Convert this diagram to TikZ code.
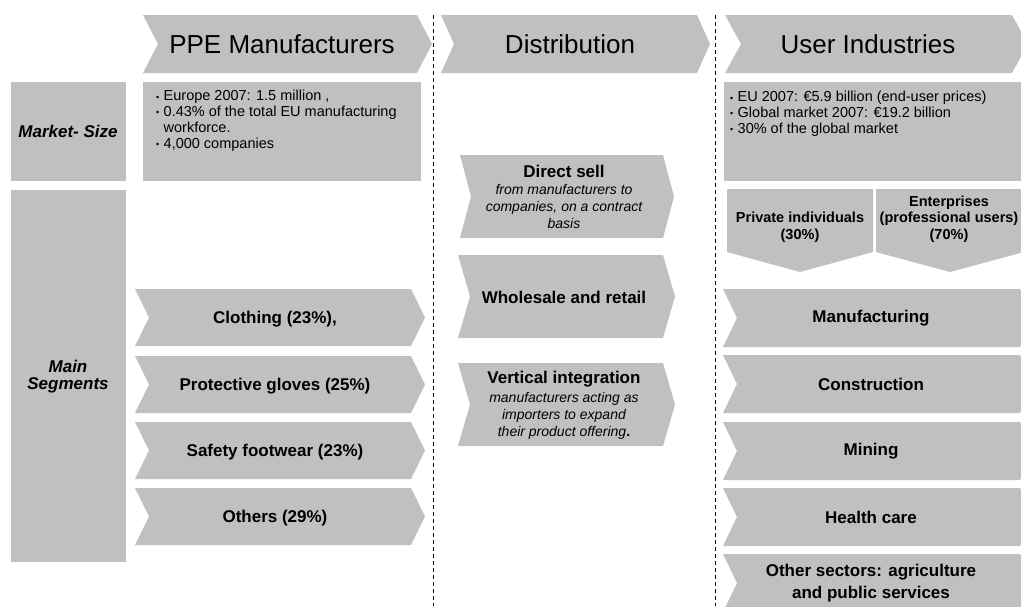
\documentclass[tikz,border=0pt]{standalone}
\usepackage{fontspec}
\setmainfont{Liberation Sans}
\definecolor{boxgray}{RGB}{192,192,192}
% x1, y1, x2, y2, depth
\newcommand{\chevron}[5]{\fill[boxgray] (#1,#2) -- (#3,#2) -- ({#3+#5},{(#2+#4)/2}) -- (#3,#4) -- (#1,#4) -- ({#1+#5},{(#2+#4)/2}) -- cycle;}
\newcommand{\pointer}[5]{\fill[boxgray] (#1,#2) -- (#3,#2) -- (#3,#4) -- ({(#1+#3)/2},#5) -- (#1,#4) -- cycle;}
\newcommand{\bul}{\makebox[7.5pt][l]{\raisebox{0.6pt}{\fontsize{9}{9}\selectfont\textbullet}}}
\begin{document}
\begin{tikzpicture}[x=1pt,y=-1pt,line join=round]
\tikzset{every node/.style={inner sep=0pt,align=center},
  head/.style={font=\fontsize{26}{30}\selectfont},
  seg/.style={font=\fontsize{17}{20}\selectfont\bfseries},
  rowlab/.style={font=\fontsize{17}{17}\selectfont\bfseries\itshape},
  note/.style={font=\fontsize{14.5}{15.8}\selectfont,align=left,anchor=north west},
  chan/.style={font=\fontsize{14}{17}\selectfont\itshape},
  share/.style={font=\fontsize{14.5}{16.5}\selectfont\bfseries},
  sep/.style={line width=1pt,dash pattern=on 4pt off 3pt}}
\useasboundingbox (0,0) rectangle (1021,606);
\clip (0,0) rectangle (1021,606);
% column heads
\chevron{143}{15}{417}{73}{15}
\chevron{441}{15}{697}{73}{13}
\chevron{725}{15}{1012}{73}{16}
\node[head] (ppe) at (282,44) {PPE Manufacturers};
\node[head] (dist) at (570,44) {Distribution};
\node[head] (user) at (868,44) {User Industries};
\draw[sep] (433,15) -- (433,606);
\draw[sep] (715,15) -- (715,606);
% row labels
\fill[boxgray] (11,82) rectangle (126,181);
\fill[boxgray] (11,190) rectangle (126,562);
\node[rowlab] (mktsize) at (68,131) {Market- Size};
\node[rowlab] (mainseg) at (68,377) {Main\\Segments};
% market size
\fill[boxgray] (143,82) rectangle (421,181);
\fill[boxgray] (724,82) rectangle (1021,181);
\node[note] (ppemkt) at (156,90) {\bul Europe 2007: 1.5 million ,\\ \bul 0.43\% of the total EU manufacturing\\ \hspace*{7.5pt}workforce.\\ \bul 4,000 companies};
\node[note] (usermkt) at (730,91) {\bul EU 2007: €5.9 billion (end-user prices)\\ \bul Global market 2007: €19.2 billion\\ \bul 30\% of the global market};
% main segments
\foreach \y/\t [count=\i, evaluate=\y as \yb using \y+57] in {289/{Clothing (23\%),}, 356/{Protective gloves (25\%)}, 422/{Safety footwear (23\%)}, 488/{Others (29\%)}}{
  \chevron{135}{\y}{411}{\yb}{14}
  \node[seg] (seg\i) at (275,\y+30) {\t};
}
% distribution
\chevron{460}{155}{663}{238}{11}
\node[chan] (direct) at (564,197) {{\fontsize{17}{17}\selectfont\bfseries\upshape Direct sell}\\ from manufacturers to\\ companies, on a contract\\ basis};
\chevron{458}{255}{663}{338}{12}
\node[seg] (wholesale) at (564,297) {Wholesale and retail};
\chevron{458}{363}{663}{446}{12}
\node[chan] (vertical) at (564,405) {{\fontsize{17}{17}\selectfont\bfseries\upshape Vertical integration}\\[2pt] manufacturers acting as\\ importers to expand\\ their product offering{\upshape\bfseries.}};
% user industries
\pointer{727}{189}{873}{252}{272}
\pointer{876}{189}{1024}{252}{272}
\node[share] (private) at (800,227) {Private individuals\\(30\%)};
\node[share] (enterprise) at (949,219) {Enterprises\\(professional users)\\(70\%)};
\foreach \y/\t [count=\i, evaluate=\y as \yb using \y+58] in {289/Manufacturing, 355/Construction, 422/Mining, 488/Health care, 554/{Other sectors: agriculture\\[2pt]and public services}}{
  \chevron{723}{\y}{1020}{\yb}{14}
  \node[seg] (ind\i) at (871,\y+29) {\t};
}
\end{tikzpicture}
\end{document}
